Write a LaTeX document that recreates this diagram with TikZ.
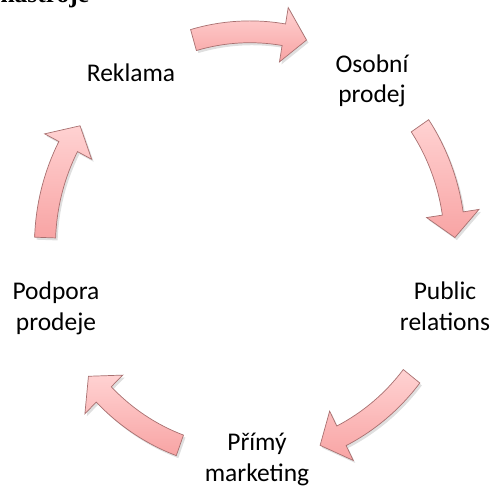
\documentclass[tikz,border=0pt]{standalone}
\usepackage{fontspec}
\setmainfont{Carlito}
\newfontfamily\headfont{Liberation Serif}
\usetikzlibrary{shadows}

\definecolor{arrowlight}{HTML}{FFD2D2}
\definecolor{arrowdark}{HTML}{F8A4A4}
\definecolor{arrowline}{HTML}{A87070}
\newcommand{\cycarrow}[1]{%
  \draw[cyclearrow] (#1+16:4.31) arc[start angle=#1+16, end angle=#1-9.5, radius=4.31]
    -- (#1-9.5:4.63) -- (#1-16:4.1) -- (#1-9.5:3.57) -- (#1-9.5:3.89)
    arc[start angle=#1-9.5, end angle=#1+16, radius=3.89] -- cycle;}

\begin{document}
\begin{tikzpicture}[line width=0.6pt,
    lbl/.style={font=\fontsize{14.5}{17.6}\selectfont, align=center, anchor=base, inner sep=0pt},
    cyclearrow/.style={draw=arrowline, line width=0.4pt, top color=arrowlight, bottom color=arrowdark,
      drop shadow={opacity=0.25, shadow xshift=0.04cm, shadow yshift=-0.05cm}}]
  \useasboundingbox (-5,-4.7) rectangle (4.94,5);
  \node[anchor=base west, inner sep=0pt, font=\headfont\bfseries\fontsize{14.5}{17}\selectfont] (head) at (-5,4.95) {nástroje};
  % the five items round the cycle
  \node[lbl] (rekl) at (-2.38,3.36) {Reklama};
  \node[lbl] (osob) at (2.44,2.94) {Osobní\\prodej};
  \node[lbl] (pr) at (3.9,-1.6) {Public\\relations};
  \node[lbl] (prim) at (0.14,-4.62) {Přímý\\marketing};
  \node[lbl] (podp) at (-3.88,-1.6) {Podpora\\prodeje};
  \begin{scope}[yshift=0.1cm, yscale=1.04]
    \cycarrow{90}
    \cycarrow{18}
    \cycarrow{-54}
    \cycarrow{-126}
    \cycarrow{-198}
  \end{scope}
\end{tikzpicture}
\end{document}
